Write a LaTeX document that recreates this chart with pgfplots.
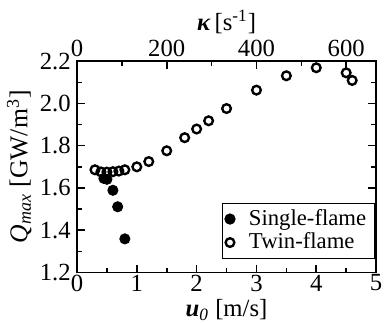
\documentclass[border=0pt]{standalone}
\usepackage{pgfplots}
\pgfplotsset{compat=1.18}
\usepackage{fontspec}
\setmainfont{Liberation Serif}
\begin{document}
\fontsize{12}{14}\selectfont
\begin{tikzpicture}
\begin{axis}[
  scale only axis, width=151.5pt, height=107pt,
  xmin=0, xmax=5, ymin=1.2, ymax=2.2,
  xtick={0,1,2,3,4,5}, minor xtick={0.5,1.5,2.5,3.5,4.5},
  ytick={1.2,1.4,1.6,1.8,2.0,2.2}, minor ytick={1.3,1.5,1.7,1.9,2.1},
  xtick pos=bottom, ytick pos=both,
  tick align=inside,
  major tick length=4pt, minor tick length=2.5pt,
  every tick/.style={line width=0.8pt, black},
  axis line style={line width=0.9pt},
  /pgf/number format/assume math mode=true,
  yticklabel style={/pgf/number format/fixed, /pgf/number format/fixed zerofill, /pgf/number format/precision=1, font=\fontsize{12.5}{15}\selectfont, xshift=1pt},
  xticklabel style={font=\fontsize{12.5}{15}\selectfont, yshift=3pt},
  xlabel={\textbf{\textit{u}}\textsubscript{\textit{0}} [m/s]},
  ylabel={\fontsize{13}{15}\selectfont\textit{Q}\textsubscript{\textit{max}} [GW/m\textsuperscript{3}]},
  xlabel style={yshift=4pt, font=\fontsize{12.5}{15}\selectfont},
  ylabel style={yshift=-4pt},
  legend style={at={(0.995,0.065)}, anchor=south east, draw=black, line width=0.5pt, font=\fontsize{11.5}{13}\selectfont, inner sep=1pt, row sep=-2pt, nodes={inner xsep=3pt}, /tikz/every odd column/.append style={column sep=4pt}},
  legend cell align=left,
  clip=false,
]
\coordinate (sw) at (rel axis cs:0,0);
\coordinate (ne) at (rel axis cs:1,1);
\addplot[only marks, mark=*, mark size=2.6pt, mark options={fill=black, draw=black}] coordinates {
(0.45,1.645) (0.5,1.641) (0.6,1.589) (0.68,1.511) (0.8,1.359)
};
\addlegendentry{Single-flame}
\addplot[only marks, mark=o, mark size=2.2pt, mark options={line width=1.2pt, draw=black, fill=white}] coordinates {
(0.3,1.686) (0.4,1.676) (0.5,1.675) (0.6,1.677) (0.7,1.680) (0.8,1.686)
(1.0,1.700) (1.2,1.725) (1.5,1.776) (1.8,1.838) (2.0,1.879) (2.2,1.918)
(2.5,1.976) (3.0,2.063) (3.5,2.131) (4.0,2.169) (4.5,2.145) (4.6,2.109)
};
\addlegendentry{Twin-flame}
\end{axis}
\begin{axis}[
  scale only axis, width=151.5pt, height=107pt,
  xmin=0, xmax=666.667, ymin=1.2, ymax=2.2,
  axis x line*=top, hide y axis,
  xtick={0,200,400,600}, minor xtick={100,300,500},
  tick align=inside,
  major tick length=4pt, minor tick length=2.5pt,
  every tick/.style={line width=0.8pt, black},
  axis line style={line width=0.9pt},
  /pgf/number format/assume math mode=true,
  xticklabel style={font=\fontsize{12.5}{15}\selectfont, yshift=-2pt},
  xlabel={\textbf{\textit{κ}}\,[s\textsuperscript{-1}]},
  xlabel style={font=\fontsize{12.5}{15}\selectfont, yshift=-5pt},
]
\end{axis}
\pgfresetboundingbox
\path ([xshift=-39pt,yshift=-25.5pt]sw) rectangle ([xshift=4pt,yshift=31pt]ne);
\end{tikzpicture}
\end{document}
